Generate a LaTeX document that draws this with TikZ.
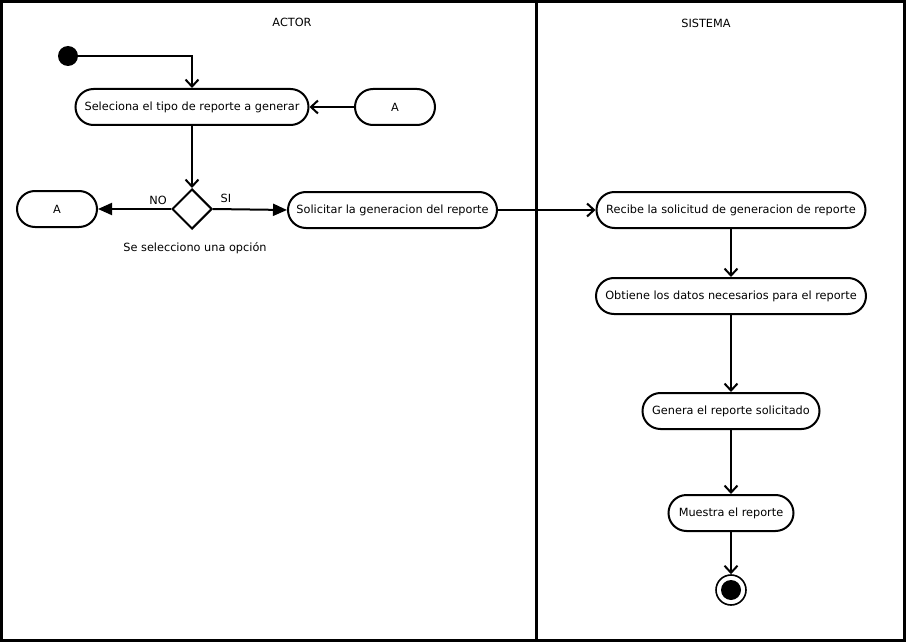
\documentclass[tikz,border=0pt]{standalone}
\usepackage{fontspec}
\setmainfont{DejaVu Sans}
\usetikzlibrary{arrows.meta,shapes.geometric}
\begin{document}
\begin{tikzpicture}[x=1pt,y=-1pt,
  font=\fontsize{11.3}{13}\selectfont,
  act/.style={draw,line width=2pt,rounded corners=18pt,minimum height=36pt,inner xsep=8pt,anchor=center},
  flow/.style={line width=2pt,-{Straight Barb[length=7pt,width=13pt,line width=2pt]}},
  solid flow/.style={line width=2pt,-{Triangle[length=14pt,width=12pt]}},
  lane/.style={line width=3pt}]
\useasboundingbox (0,0) rectangle (906,642);
\fill[white] (0,0) rectangle (906,642);
% swimlanes
\draw[lane] (1.5,1.5) rectangle (904.5,640.5);
\draw[lane] (536.5,1.5) -- (536.5,640.5);
\node (lactor) at (292,22) {ACTOR};
\node (lsis) at (706,23) {SISTEMA};
% actor lane
\node[circle,fill=black,minimum size=20pt,inner sep=0pt] (start) at (68,56) {};
\node[act,minimum width=233pt] (sel) at (192,107) {Seleciona el tipo de reporte a generar};
\node[act,minimum width=80pt] (ain) at (395,107) {A};
\node[diamond,draw,line width=2pt,minimum width=40pt,minimum height=40pt,inner sep=0pt] (dec) at (192,209) {};
\node[act,minimum width=80pt] (aout) at (57,209) {A};
\node[act,minimum width=209pt] (sol) at (392.5,210) {Solicitar la generacion del reporte};
\node (lno) at (158,200) {NO};
\node (lsi) at (226,198) {SI};
\node (lcond) at (195,248) {Se selecciono una opción};
% sistema lane
\node[act,minimum width=269pt] (rec) at (731,210) {Recibe la solicitud de generacion de reporte};
\node[act,minimum width=270pt] (obt) at (731,296) {Obtiene los datos necesarios para el reporte};
\node[act,minimum width=177pt] (gen) at (731,411) {Genera el reporte solicitado};
\node[act,minimum width=125pt] (mue) at (731,513) {Muestra el reporte};
\node[circle,draw,line width=1.6pt,minimum size=30pt,inner sep=0pt] (fin) at (731,590) {};
\fill (fin.center) circle (10pt);
% connectors
\draw[flow] (start.east) -| (sel.north);
\draw[flow] (ain.west) -- (sel.east);
\draw[flow] (sel.south) -- (dec.north);
\draw[solid flow] (dec.west) -- (aout.east);
\draw[solid flow] (dec.east) -- (sol.west);
\draw[flow] (sol.east) -- (rec.west);
\draw[flow] (rec.south) -- (obt.north);
\draw[flow] (obt.south) -- (gen.north);
\draw[flow] (gen.south) -- (mue.north);
\draw[flow] (mue.south) -- (fin.north);
\end{tikzpicture}
\end{document}
